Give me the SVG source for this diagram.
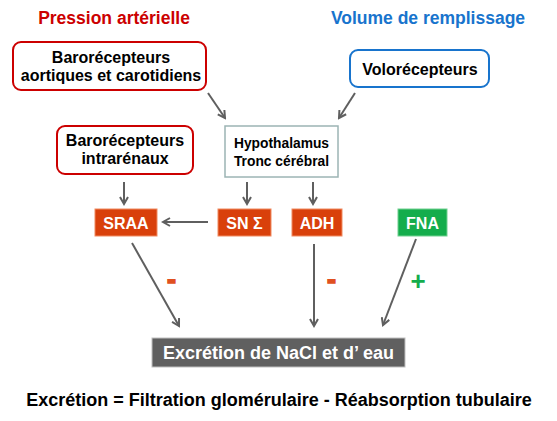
<svg xmlns="http://www.w3.org/2000/svg" width="557" height="421" viewBox="0 0 557 421">
<defs>
<marker id="ah" markerWidth="10" markerHeight="10" refX="8" refY="5" orient="auto" markerUnits="userSpaceOnUse">
<path d="M1,1 L8,5 L1,9" fill="none" stroke="#5f5f5f" stroke-width="2"/>
</marker>
</defs>
<style>
text{font-family:"Liberation Sans",Arial,sans-serif;font-weight:bold}
.rbox{fill:#fff;stroke:#cc0000;stroke-width:2}
.bbox{fill:#fff;stroke:#1874cd;stroke-width:2}
.t14{font-size:16px;fill:#000}
.t12{font-size:13.8px;fill:#000}
.w{font-size:16px;fill:#fff}
.org{fill:#d9400b;stroke:#f08a60;stroke-width:1}
.grn{fill:#14ad4c;stroke:#70d090;stroke-width:1}
.con{stroke:#5f5f5f;stroke-width:2;fill:none;marker-end:url(#ah)}
</style>
<rect width="557" height="421" fill="#fff"/>
<text x="114" y="24" text-anchor="middle" style="font-size:17.5px;fill:#cc0000">Pression artérielle</text>
<text x="428" y="24" text-anchor="middle" style="font-size:17.5px;fill:#1874cd">Volume de remplissage</text>

<g id="baro-aort">
<rect class="rbox" x="13" y="42" width="193" height="48" rx="8"/>
<text class="t14" x="111" y="63" text-anchor="middle">Barorécepteurs</text>
<text class="t14" x="111" y="81" text-anchor="middle">aortiques et carotidiens</text>
</g>
<g id="volo">
<rect class="bbox" x="350" y="50" width="139" height="37" rx="8"/>
<text class="t14" x="420" y="75" text-anchor="middle">Volorécepteurs</text>
</g>
<g id="baro-intra">
<rect class="rbox" x="57" y="126" width="136" height="48" rx="8"/>
<text class="t14" x="125" y="146" text-anchor="middle">Barorécepteurs</text>
<text class="t14" x="125" y="164" text-anchor="middle">intrarénaux</text>
</g>
<g id="hypo">
<rect x="225" y="126" width="113" height="51" fill="#fff" stroke="#9cb4b4" stroke-width="1.5"/>
<text class="t12" x="281.5" y="148" text-anchor="middle">Hypothalamus</text>
<text class="t12" x="281.5" y="166" text-anchor="middle">Tronc cérébral</text>
</g>
<g id="sraa">
<rect class="org" x="95" y="209" width="62" height="27"/>
<text class="w" x="126" y="228.5" text-anchor="middle">SRAA</text>
</g>
<g id="sn">
<rect class="org" x="218" y="209" width="53" height="27"/>
<text class="w" x="244.5" y="228.5" text-anchor="middle">SN Σ</text>
</g>
<g id="adh">
<rect class="org" x="292" y="209" width="50" height="27"/>
<text class="w" x="317" y="228.5" text-anchor="middle">ADH</text>
</g>
<g id="fna">
<rect class="grn" x="398" y="209" width="49" height="27"/>
<text class="w" x="422.5" y="228.5" text-anchor="middle">FNA</text>
</g>
<g id="excretion">
<rect x="152" y="338" width="253" height="29" fill="#606060" stroke="#bfbfbf" stroke-width="1"/>
<text x="278.5" y="359" text-anchor="middle" style="font-size:18px;fill:#fff">Excrétion de NaCl et d’ eau</text>
</g>

<g id="connectors">
<line class="con" x1="208" y1="93" x2="225" y2="118"/>
<line class="con" x1="355" y1="93" x2="339" y2="118"/>
<line class="con" x1="124" y1="182" x2="124" y2="204"/>
<line class="con" x1="247" y1="182" x2="247" y2="204"/>
<line class="con" x1="313" y1="182" x2="313" y2="204"/>
<line class="con" x1="208" y1="222" x2="163" y2="222"/>
<line class="con" x1="132" y1="243" x2="179" y2="326"/>
<line class="con" x1="314" y1="244" x2="314" y2="326"/>
<line class="con" x1="416" y1="239" x2="383" y2="325"/>
</g>
<g id="signs">
<text x="171.5" y="289" text-anchor="middle" style="font-size:27px;fill:#e05020;stroke:#e05020;stroke-width:1.5">-</text>
<text x="331.5" y="289" text-anchor="middle" style="font-size:27px;fill:#e05020;stroke:#e05020;stroke-width:1.5">-</text>
<text x="418" y="290" text-anchor="middle" style="font-size:26px;fill:#14ad4c">+</text>
</g>
<text x="279" y="406" text-anchor="middle" style="font-size:18px;fill:#000">Excrétion = Filtration glomérulaire - Réabsorption tubulaire</text>
</svg>
